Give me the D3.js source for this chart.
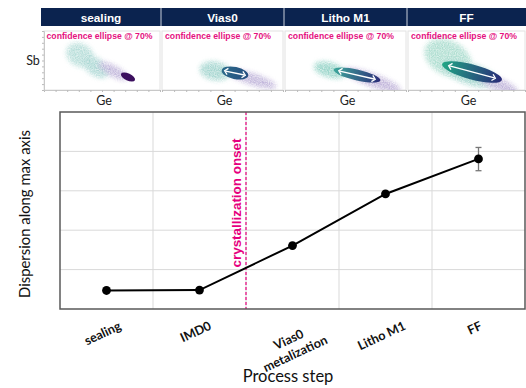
<!DOCTYPE html>
<html><head><meta charset="utf-8">
<script src="https://cdn.jsdelivr.net/npm/d3@7/dist/d3.min.js"></script>
<style>body{margin:0;background:#fff}svg{display:block}</style>
</head><body>
<svg id="c" width="526" height="388"></svg>
<script>
// ---------- data ----------
const steps = ["sealing", "IMD0", "Vias0\nmetalization", "Litho M1", "FF"];
const dispersion = [0.47, 0.48, 1.61, 2.92, 3.81];
const errLow  = [null, null, null, null, 3.51];
const errHigh = [null, null, null, null, 4.10];
const yGrid = [1, 2, 3, 4];
const onsetAfter = "IMD0";
const onsetLabel = "crystallization onset";

const panelTitles = ["sealing", "Vias0", "Litho M1", "FF"];
const panelNote = "confidence ellipse @ 70%";
// scatter clouds (Ge, Sb in panel units, radii in Ge units, angle deg)
const cloudPanel = [0, 0, 0, 1, 1, 2, 2, 3, 3, 3];
const cloudGe    = [3.10, 4.48, 5.95, 4.38, 7.44, 3.72, 7.19, 3.42, 5.30, 7.61];
const cloudSb    = [2.97, 1.95, 1.61, 1.61, 0.93, 1.69, 0.85, 2.71, 1.36, 0.51];
const cloudRx    = [1.20, 1.25, 1.40, 1.24, 2.07, 1.32, 2.48, 2.10, 2.56, 1.88];
const cloudRy    = [0.95, 0.72, 0.43, 0.74, 0.45, 0.58, 0.50, 1.42, 0.85, 0.51];
const cloudAngle = [30, 35, 28, 10, 18, 15, 20, 28, 18, 22];
const cloudColor = ["#b3dcd7", "#a9d6d3", "#bcb0d8", "#9fd3cc", "#bcb0d8", "#8fd0c4", "#bbaed7", "#a8dccd", "#98d0c8", "#bdb0d8"];
// confidence ellipses per panel
const ellGe    = [7.24, 6.03, 5.95, 5.47];
const ellSb    = [1.10, 1.44, 1.27, 1.53];
const ellRx    = [0.66, 1.12, 1.98, 2.65];
const ellRy    = [0.30, 0.50, 0.45, 0.64];
const ellAngle = [25, 12, 13, 15];
const ellColorA = ["#3b0f5e", "#2b6b8a", "#3ea89c", "#21a685"];
const ellColorB = ["#3b0f5e", "#264d80", "#2c2c78", "#2a2a78"];
const ellArrow  = [false, true, true, true];

// ---------- layout ----------
const svg = d3.select("#c");
const defs = svg.append("defs");
const f = defs.append("filter").attr("id", "cloud").attr("x", "-50%").attr("y", "-50%").attr("width", "200%").attr("height", "200%");
f.append("feGaussianBlur").attr("in", "SourceGraphic").attr("stdDeviation", 2.6).attr("result", "b");
f.append("feTurbulence").attr("type", "fractalNoise").attr("baseFrequency", 0.85).attr("numOctaves", 1).attr("seed", 4).attr("result", "n");
f.append("feColorMatrix").attr("in", "n").attr("type", "matrix")
  .attr("values", "0 0 0 0 0  0 0 0 0 0  0 0 0 0 0  2.2 0 0 0 -0.55").attr("result", "m");
f.append("feComposite").attr("in", "b").attr("in2", "m").attr("operator", "in").attr("result", "s");
f.append("feComponentTransfer").attr("in", "b").attr("result", "bl")
  .append("feFuncA").attr("type", "linear").attr("slope", 0.45);
const fm = f.append("feMerge");
fm.append("feMergeNode").attr("in", "bl");
fm.append("feMergeNode").attr("in", "s");

const headerX = [41, 161, 284, 407, 526];
const panelX0 = [44, 162, 285, 408];
const panelX1 = [160, 283, 406, 525];
const pTop = 31, pBot = 90;

panelTitles.forEach((t, i) => {
  svg.append("rect").attr("x", headerX[i]).attr("y", 8).attr("width", headerX[i + 1] - headerX[i]).attr("height", 18).attr("fill", "#0b234f");
  svg.append("text").attr("x", (headerX[i] + headerX[i + 1]) / 2).attr("y", 21.5)
    .attr("text-anchor", "middle").attr("fill", "#fff").attr("font-family", "Liberation Sans, Arial, sans-serif")
    .attr("font-weight", "bold").attr("font-size", 11.8).text(t);
});
for (let i = 1; i < 4; i++) {
  svg.append("line").attr("x1", headerX[i]).attr("x2", headerX[i]).attr("y1", 8).attr("y2", 26).attr("stroke", "#c9cfdb").attr("stroke-width", 1);
}

panelTitles.forEach((t, i) => {
  const gx = d3.scaleLinear().domain([0, 10]).range([panelX0[i], panelX1[i]]);
  const gy = d3.scaleLinear().domain([0, 5]).range([pBot, pTop]);
  const k = gx(1) - gx(0);
  const g = svg.append("g");
  const clipId = "clip" + i;
  defs.append("clipPath").attr("id", clipId).append("rect").attr("x", panelX0[i]).attr("y", pTop).attr("width", panelX1[i] - panelX0[i]).attr("height", pBot - pTop);
  g.append("rect").attr("x", panelX0[i]).attr("y", pTop).attr("width", panelX1[i] - panelX0[i]).attr("height", pBot - pTop)
    .attr("fill", "none").attr("stroke", "#e2e2e2").attr("stroke-width", 1);
  const cg = g.append("g").attr("clip-path", `url(#${clipId})`).append("g").attr("filter", "url(#cloud)");
  cloudPanel.forEach((p, j) => {
    if (p !== i) return;
    cg.append("ellipse").attr("cx", 0).attr("cy", 0).attr("rx", cloudRx[j] * k).attr("ry", cloudRy[j] * k)
      .attr("transform", `translate(${gx(cloudGe[j])},${gy(cloudSb[j])}) rotate(${cloudAngle[j]})`)
      .attr("fill", cloudColor[j]).attr("opacity", 0.9);
  });
  const gradId = "eg" + i;
  const lg = defs.append("linearGradient").attr("id", gradId).attr("x1", "0%").attr("x2", "100%").attr("y1", "0%").attr("y2", "0%");
  lg.append("stop").attr("offset", "0%").attr("stop-color", ellColorA[i]);
  lg.append("stop").attr("offset", "100%").attr("stop-color", ellColorB[i]);
  const eg = g.append("g").attr("transform", `translate(${gx(ellGe[i])},${gy(ellSb[i])}) rotate(${ellAngle[i]})`);
  const rx = ellRx[i] * k, ry = ellRy[i] * k;
  eg.append("ellipse").attr("rx", rx).attr("ry", ry).attr("fill", `url(#${gradId})`);
  if (ellArrow[i]) {
    const a = rx * 0.78, h = 3.2;
    eg.append("line").attr("x1", -a + 1).attr("x2", a - 1).attr("y1", 0).attr("y2", 0).attr("stroke", "#fff").attr("stroke-width", 1.3);
    eg.append("path").attr("d", `M${-a + h},${-h} L${-a},0 L${-a + h},${h}`).attr("fill", "none").attr("stroke", "#fff").attr("stroke-width", 1.3);
    eg.append("path").attr("d", `M${a - h},${-h} L${a},0 L${a - h},${h}`).attr("fill", "none").attr("stroke", "#fff").attr("stroke-width", 1.3);
  }
  const ax = g.append("g").attr("transform", `translate(0,${pBot})`)
    .call(d3.axisBottom(gx).ticks(10).tickSize(2).tickFormat(""));
  ax.selectAll("line").attr("stroke", "#bbb");
  ax.select(".domain").attr("stroke", "#c8c8c8");
  if (i === 0) {
    const ay = g.append("g").attr("transform", `translate(${panelX0[i]},0)`)
      .call(d3.axisLeft(gy).ticks(10).tickSize(2).tickFormat(""));
    ay.selectAll("line").attr("stroke", "#bbb");
    ay.select(".domain").attr("stroke", "#c8c8c8");
  }
  g.append("text").attr("x", panelX0[i] + (i === 0 ? 2.5 : 3)).attr("y", 39.2)
    .attr("fill", "#e5127f").attr("font-family", "Liberation Sans, Arial, sans-serif").attr("font-weight", "bold")
    .attr("font-size", 9.2).attr("textLength", 106).attr("lengthAdjust", "spacingAndGlyphs").text(panelNote);
  g.append("text").attr("x", (panelX0[i] + panelX1[i]) / 2 + 2).attr("y", 104.5)
    .attr("text-anchor", "middle").attr("fill", "#222").attr("font-family", "Lato, sans-serif").attr("font-size", 12.5).text("Ge");
});
svg.append("text").attr("x", 33).attr("y", 65).attr("text-anchor", "middle").attr("fill", "#222")
  .attr("font-family", "Lato, sans-serif").attr("font-size", 12.5).text("Sb");

// ---------- main chart ----------
const mL = 60, mR = 525, mT = 112, mB = 309;
const x = d3.scaleBand().domain(steps).range([mL, mR]);
const y = d3.scaleLinear().domain([0, 5]).range([mB, mT]);
const main = svg.append("g");

main.selectAll(".hg").data(yGrid).join("line").attr("x1", mL).attr("x2", mR)
  .attr("y1", d => y(d)).attr("y2", d => y(d)).attr("stroke", "#d9d9d9").attr("stroke-width", 1);
main.selectAll(".vg").data(steps.slice(1)).join("line").attr("x1", d => x(d)).attr("x2", d => x(d))
  .attr("y1", mT).attr("y2", mB).attr("stroke", "#d9d9d9").attr("stroke-width", 1);

const ox = x(onsetAfter) + x.bandwidth();
main.append("line").attr("x1", ox).attr("x2", ox).attr("y1", mT).attr("y2", mB)
  .attr("stroke", "#e6007e").attr("stroke-width", 1.2).attr("stroke-dasharray", "3,2");
main.append("text").attr("transform", `translate(${ox - 5},203) rotate(-90)`)
  .attr("text-anchor", "middle").attr("fill", "#e6007e").attr("font-family", "Liberation Sans, Arial, sans-serif")
  .attr("font-weight", "bold").attr("font-size", 13).attr("textLength", 129).attr("lengthAdjust", "spacingAndGlyphs").text(onsetLabel);

main.append("rect").attr("x", mL).attr("y", mT).attr("width", mR - mL).attr("height", mB - mT)
  .attr("fill", "none").attr("stroke", "#595959").attr("stroke-width", 1.5);

const cx = d => x(d) + x.bandwidth() / 2;
const pts = steps.map((s, i) => ({ s, v: dispersion[i], lo: errLow[i], hi: errHigh[i] }));
main.append("path").datum(pts).attr("fill", "none").attr("stroke", "#000").attr("stroke-width", 2)
  .attr("d", d3.line().x(d => cx(d.s)).y(d => y(d.v)));
pts.filter(d => d.lo != null).forEach(d => {
  const xx = cx(d.s);
  main.append("line").attr("x1", xx).attr("x2", xx).attr("y1", y(d.lo)).attr("y2", y(d.hi)).attr("stroke", "#777").attr("stroke-width", 1.3);
  [d.lo, d.hi].forEach(v => main.append("line").attr("x1", xx - 3).attr("x2", xx + 3).attr("y1", y(v)).attr("y2", y(v)).attr("stroke", "#777").attr("stroke-width", 1.3));
});
main.selectAll(".pt").data(pts).join("circle").attr("cx", d => cx(d.s)).attr("cy", d => y(d.v)).attr("r", 4.4).attr("fill", "#000");

steps.forEach(s => {
  const g = main.append("g").attr("transform", `translate(${cx(s)},0)`);
  const t = g.append("text").attr("transform", "rotate(-25)").attr("text-anchor", "middle")
    .attr("font-family", "Lato, sans-serif").attr("font-weight", "bold").attr("font-size", 12.6).attr("fill", "#111");
  const lines = s.split("\n");
  lines.forEach((l, i) => t.append("tspan").attr("x", 0).attr("dy", i === 0 ? 0 : 15.5).text(l));
  const bb = g.node().getBoundingClientRect();
  g.attr("transform", `translate(${cx(s) - 2},${318 - bb.top})`);
});

const yt = svg.append("text").attr("transform", `translate(30,214) rotate(-90)`).attr("text-anchor", "middle")
  .attr("font-family", "Lato, sans-serif").attr("font-size", 16).attr("fill", "#111").text("Dispersion along max axis");
const yl = yt.node().getComputedTextLength();
yt.attr("font-size", 16 * 168 / yl);
svg.append("text").attr("x", 288).attr("y", 382).attr("text-anchor", "middle")
  .attr("font-family", "Lato, sans-serif").attr("font-size", 16.5).attr("fill", "#111").text("Process step");
</script>
</body></html>
